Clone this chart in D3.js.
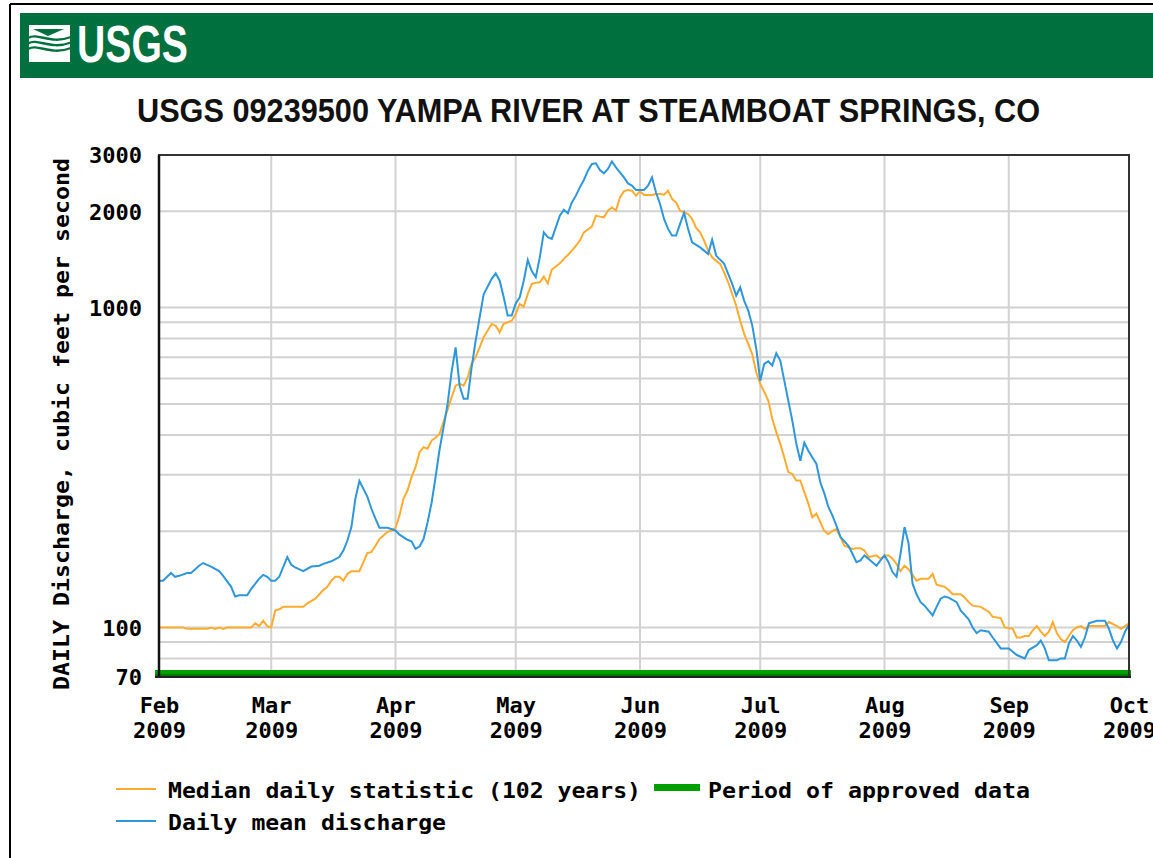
<!DOCTYPE html>
<html><head><meta charset="utf-8">
<script src="https://cdn.jsdelivr.net/npm/d3@7"></script>
<style>body{margin:0;background:#fff;overflow:hidden}</style>
</head><body>
<svg id="c" width="1153" height="858"></svg>
<script>
// ---------- DATA ----------
const startDate = "2009-02-01";
const endDate = "2009-10-01";
const monthLabels = ["Feb","Mar","Apr","May","Jun","Jul","Aug","Sep","Oct"];
const yearLabel = "2009";
const yTickValues = [70, 100, 1000, 2000, 3000];
const yGridValues = [80, 90, 100, 200, 300, 400, 500, 600, 700, 800, 900, 1000, 2000];
const titleText = "USGS 09239500 YAMPA RIVER AT STEAMBOAT SPRINGS, CO";
const yTitleText = "DAILY Discharge, cubic feet per second";
const legendLabels = ["Median daily statistic (102 years)", "Period of approved data", "Daily mean discharge"];

// Daily mean discharge (cfs): day offset from Feb 1 2009, value
const meanDays = [0,1,3,4,5,7,8,10,11,13,15,16,18,19,20,22,23,25,26,27,28,29,30,32,33,34,36,38,40,41,43,45,46,47,48,49,50,52,53,54,55,57,59,60,62,63,64,65,66,67,68,69,70,71,72,73,74,75,76,77,78,79,80,81,83,84,85,86,87,88,89,90,91,92,93,94,95,96,97,98,99,100,101,102,103,104,105,106,107,108,109,110,111,112,113,114,116,117,118,119,121,122,123,124,125,126,127,128,129,130,131,132,133,135,136,137,138,139,141,142,143,144,145,146,147,148,149,150,151,152,153,154,155,156,157,158,159,160,161,162,163,164,165,166,167,168,169,170,172,173,174,175,176,177,179,180,181,182,183,184,185,186,187,188,189,190,191,193,194,195,196,197,199,200,202,203,204,205,207,208,210,212,213,214,216,217,219,220,221,222,224,225,226,227,228,229,230,231,232,234,236,237,238,239,240,241,242];
const meanCfs = [140,140,148,144,145,148,148,156,159,155,150,145,134,125,126,126,132,142,146,144,140,140,144,166,157,154,150,155,156,158,161,166,174,187,206,253,287,256,235,219,205,205,201,195,188,186,176,179,189,213,245,295,360,423,500,630,751,570,519,519,651,788,933,1100,1230,1280,1214,1077,944,944,1030,1077,1214,1409,1300,1244,1436,1720,1659,1640,1782,1939,2023,1971,2133,2239,2377,2506,2680,2812,2825,2693,2630,2712,2865,2744,2554,2445,2406,2333,2333,2406,2554,2290,2109,1893,1762,1679,1679,1827,1980,1762,1600,1543,1507,1472,1631,1454,1370,1274,1186,1090,1157,1050,980,880,745,591,667,679,659,720,683,591,512,443,375,332,378,357,340,325,284,262,238,224,208,192,180,170,160,162,168,164,156,162,168,160,149,144,170,206,183,137,127,120,117,109,116,123,125,124,120,113,106,100,96,98,97,93,86,86,84,82,80,85,88,91,86,79,79,80,80,89,94,91,87,93,103,105,105,99,91,86,90,97,102];

// Median daily statistic (102 years), cfs
const medianDays = [0,6,7,12,13,14,15,16,17,23,24,25,26,27,28,29,30,31,36,37,39,40,41,42,43,44,45,46,47,48,50,51,52,53,54,55,56,57,58,59,60,61,62,63,64,65,66,67,68,69,70,71,72,73,74,75,76,77,78,79,80,81,82,83,84,85,86,88,89,90,91,92,93,94,95,96,97,98,99,100,101,102,103,104,105,106,107,108,109,110,111,112,113,114,115,116,117,118,119,120,121,122,123,124,125,126,127,128,129,130,131,132,133,134,135,136,137,138,139,140,141,142,143,144,145,146,147,148,149,150,151,152,153,154,155,156,157,158,159,160,161,162,163,164,165,166,167,168,169,170,171,172,173,174,175,176,177,178,179,180,181,182,183,184,185,186,187,188,189,190,192,193,194,195,196,197,198,199,200,201,202,203,205,207,208,210,211,213,214,215,216,217,218,219,220,221,222,223,224,225,226,227,228,229,230,231,232,234,236,237,239,240,242];
const medianCfs = [100,100,99,99,100,99,100,99,100,100,103,101,105,101,100,113,114,116,116,119,123,127,131,134,140,144,144,140,147,150,150,160,171,172,180,189,194,199,201,205,224,253,268,295,317,353,366,362,384,392,403,440,480,524,570,578,570,605,667,700,751,808,848,889,878,837,890,910,955,1027,1007,1103,1186,1195,1200,1250,1190,1315,1345,1375,1420,1460,1507,1560,1620,1719,1755,1791,1939,1925,1915,2010,2057,2010,2212,2308,2333,2320,2239,2308,2250,2250,2250,2266,2266,2255,2320,2186,2133,2010,1985,1962,1893,1774,1719,1620,1507,1436,1400,1370,1289,1200,1103,1014,910,827,770,716,628,578,545,512,449,408,375,340,306,302,288,288,265,244,221,227,213,200,196,200,203,192,180,178,176,177,177,174,166,167,168,164,168,168,164,158,150,156,152,146,140,142,142,147,136,135,134,131,127,127,127,124,120,117,116,112,108,107,100,99,93,93,94,94,98,101,97,94,97,104,96,92,90,94,98,100,101,99,101,101,101,104,101,99,103];

// ---------- CHART ----------
const svg = d3.select("#c");
const parse = d3.utcParse("%Y-%m-%d");
const t0 = parse(startDate), t1 = parse(endDate);
const mono = "'DejaVu Sans Mono', 'Liberation Mono', monospace";
const green = "#00703f";

const x = d3.scaleUtc().domain([t0, t1]).range([159, 1129]);
const y = d3.scaleLog().domain([70, 3000]).range([677, 155]);

// page frame
svg.append("line").attr("x1", 10).attr("y1", 4).attr("x2", 1153).attr("y2", 4).attr("stroke", "#000").attr("stroke-width", 2);
svg.append("line").attr("x1", 10).attr("y1", 4).attr("x2", 10).attr("y2", 858).attr("stroke", "#000").attr("stroke-width", 2);

// banner
svg.append("rect").attr("x", 20).attr("y", 13).attr("width", 1140).attr("height", 65).attr("fill", green);
// logo icon
const logo = svg.append("g");
logo.append("rect").attr("x", 29).attr("y", 25).attr("width", 41).attr("height", 37).attr("fill", "#fff");
logo.append("path").attr("d", "M33,29 L64,29 L48,36 Z").attr("fill", green);
[38, 43.5, 49].forEach(wy => {
  logo.append("path")
    .attr("d", `M28,${wy} C38,${wy - 6} 50,${wy + 7} 71,${wy - 1}`)
    .attr("fill", "none").attr("stroke", green).attr("stroke-width", 2.4);
});
logo.append("path").attr("d", "M33,57 L66,57 L66,54 L49,54 Z").attr("fill", green).attr("opacity", 0.0);
logo.append("text").attr("x", 77).attr("y", 62).attr("fill", "#fff")
  .attr("font-family", "'Liberation Sans Narrow','Liberation Sans',Arial,sans-serif").attr("font-weight", "bold")
  .attr("font-size", 51).attr("textLength", 111).attr("lengthAdjust", "spacingAndGlyphs").text("USGS");

// title
svg.append("text").attr("x", 137).attr("y", 122).attr("fill", "#111")
  .attr("font-family", "'Liberation Sans Narrow','Liberation Sans',Arial,sans-serif").attr("font-weight", "bold")
  .attr("font-size", 34).attr("textLength", 903).attr("lengthAdjust", "spacingAndGlyphs").text(titleText);

// grid
const grid = svg.append("g").attr("stroke", "#d2d2d2").attr("stroke-width", 2);
const monthTicks = d3.utcMonth.range(t0, d3.utcDay.offset(t1, 1));
grid.selectAll(".v").data(monthTicks.slice(1, -1)).join("line")
  .attr("x1", d => x(d)).attr("x2", d => x(d)).attr("y1", y(3000)).attr("y2", y(70));
grid.selectAll(".h").data(yGridValues).join("line")
  .attr("x1", x(t0)).attr("x2", x(t1)).attr("y1", d => y(d)).attr("y2", d => y(d));

// series
const mean = meanDays.map((d, i) => ({ date: d3.utcDay.offset(t0, d), v: meanCfs[i] }));
const median = medianDays.map((d, i) => ({ date: d3.utcDay.offset(t0, d), v: medianCfs[i] }));
const line = d3.line().x(d => x(d.date)).y(d => y(d.v));
svg.append("path").datum(median).attr("d", line).attr("fill", "none").attr("stroke", "#ffab2e").attr("stroke-width", 2);
svg.append("path").datum(mean).attr("d", line).attr("fill", "none").attr("stroke", "#2e97db").attr("stroke-width", 2);

// period of approved data bar
svg.append("rect").attr("x", x(t0) - 4).attr("y", 670).attr("width", x(t1) - x(t0) + 6).attr("height", 6).attr("fill", "#00a000");
svg.append("rect").attr("x", x(t0) - 4).attr("y", 674).attr("width", x(t1) - x(t0) + 6).attr("height", 2).attr("fill", "#007a00");

// frame
svg.append("rect").attr("x", x(t0)).attr("y", y(3000)).attr("width", x(t1) - x(t0)).attr("height", y(70) - y(3000))
  .attr("fill", "none").attr("stroke", "#333").attr("stroke-width", 2);
svg.append("line").attr("x1", x(t0)).attr("x2", x(t0)).attr("y1", y(3000)).attr("y2", y(70) + 1).attr("stroke", "#111").attr("stroke-width", 2.5);
svg.append("line").attr("x1", x(t0) - 4).attr("x2", x(t1) + 2).attr("y1", y(70)).attr("y2", y(70)).attr("stroke", "#222").attr("stroke-width", 2);

// y axis
const yAxis = svg.append("g").attr("transform", `translate(${x(t0)},0)`)
  .call(d3.axisLeft(y).tickValues(yTickValues).tickFormat(d3.format("d")).tickSize(0).tickPadding(17));
yAxis.select(".domain").remove();
yAxis.selectAll("text").attr("font-family", mono).attr("font-weight", "bold").attr("font-size", 22).attr("fill", "#000").attr("dy", "0.36em");

// x axis
const xAxis = svg.append("g").attr("transform", `translate(0,${y(70)})`)
  .call(d3.axisBottom(x).tickValues(monthTicks).tickSize(0).tickFormat((d, i) => monthLabels[i]));
xAxis.select(".domain").remove();
xAxis.selectAll("text").each(function(d, i) {
  const t = d3.select(this);
  t.text(null).attr("y", 0).attr("dy", null)
   .attr("font-family", mono).attr("font-weight", "bold").attr("font-size", 22).attr("fill", "#000");
  t.append("tspan").attr("x", 0).attr("y", 36).text(monthLabels[i]);
  t.append("tspan").attr("x", 0).attr("y", 61).text(yearLabel);
});

// y title
svg.append("text").attr("transform", "translate(69,424) rotate(-90)").attr("text-anchor", "middle")
  .attr("font-family", mono).attr("font-weight", "bold").attr("font-size", 22).attr("fill", "#000")
  .attr("textLength", 532).attr("lengthAdjust", "spacingAndGlyphs").text(yTitleText);

// legend
const lg = svg.append("g").attr("font-family", mono).attr("font-weight", "bold").attr("font-size", 22).attr("fill", "#000");
lg.append("line").attr("x1", 116).attr("x2", 156).attr("y1", 789).attr("y2", 789).attr("stroke", "#ffab2e").attr("stroke-width", 2);
lg.append("text").attr("x", 168).attr("y", 798).attr("textLength", 473).attr("lengthAdjust", "spacingAndGlyphs").text(legendLabels[0]);
lg.append("rect").attr("x", 654).attr("y", 784).attr("width", 46).attr("height", 7).attr("fill", "#00a000");
lg.append("text").attr("x", 708).attr("y", 798).attr("textLength", 322).attr("lengthAdjust", "spacingAndGlyphs").text(legendLabels[1]);
lg.append("line").attr("x1", 116).attr("x2", 156).attr("y1", 821).attr("y2", 821).attr("stroke", "#2e97db").attr("stroke-width", 2);
lg.append("text").attr("x", 168).attr("y", 830).attr("textLength", 278).attr("lengthAdjust", "spacingAndGlyphs").text(legendLabels[2]);
</script>
</body></html>
